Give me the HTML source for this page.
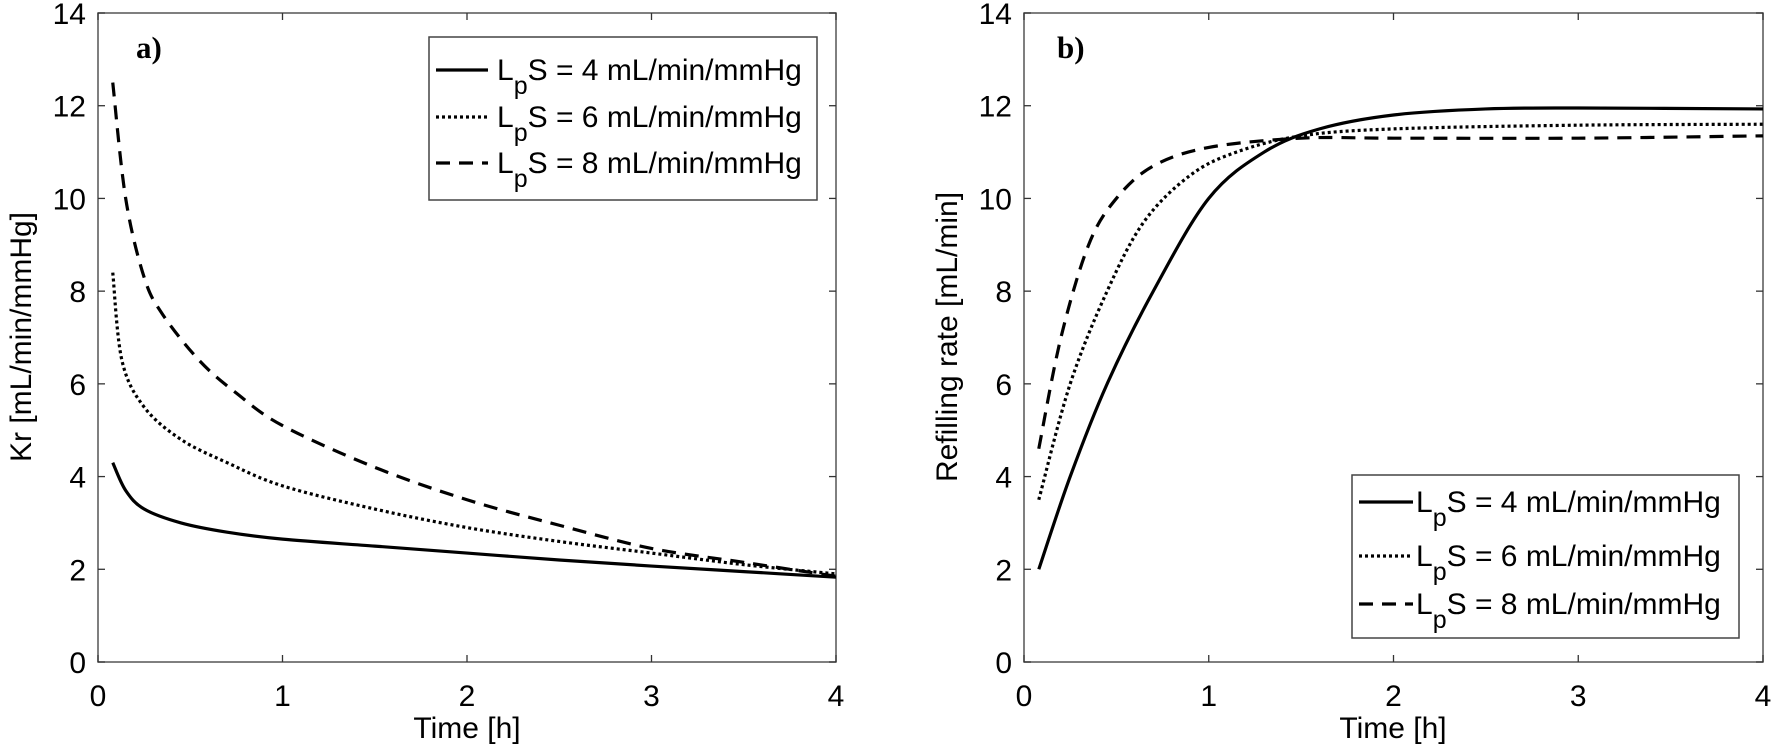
<!DOCTYPE html>
<html><head><meta charset="utf-8"><style>
html,body{margin:0;padding:0;background:#fff;}
svg{display:block;font-family:"Liberation Sans",Arial,sans-serif;}
</style></head><body>
<svg id="s" width="1773" height="753" viewBox="0 0 1773 753" xmlns="http://www.w3.org/2000/svg">
<rect width="1773" height="753" fill="#fff"/>
<g id="g"></g>
<text x="467" y="738" font-size="30" text-anchor="middle">Time [h]</text>
<text x="1393" y="738" font-size="30" text-anchor="middle">Time [h]</text>
<text transform="translate(31,337) rotate(-90)" font-size="30" text-anchor="middle">Kr [mL/min/mmHg]</text>
<text transform="translate(957,337) rotate(-90)" font-size="30" text-anchor="middle">Refilling rate [mL/min]</text>
<text x="136" y="58" font-size="31" font-weight="bold" font-family="Liberation Serif,serif">a)</text>
<text x="1057" y="58" font-size="31" font-weight="bold" font-family="Liberation Serif,serif">b)</text>
</svg>
<script>
var NS="http://www.w3.org/2000/svg",g=document.getElementById('g');
function el(t,a,txt){var e=document.createElementNS(NS,t);for(var k in a)e.setAttribute(k,a[k]);if(txt!=null)e.textContent=txt;g.appendChild(e);return e;}
var Y0=662,YT=13,ppu=(Y0-YT)/14;
function panel(x0,x1,ylabx){
  var pw=(x1-x0)/4;
  el('rect',{x:x0,y:YT,width:x1-x0,height:Y0-YT,fill:'none',stroke:'#555','stroke-width':1.5});
  for(var i=0;i<=4;i++){var x=x0+i*pw;
    el('line',{x1:x,y1:Y0,x2:x,y2:Y0-7,stroke:'#333','stroke-width':1.3});
    el('line',{x1:x,y1:YT,x2:x,y2:YT+7,stroke:'#333','stroke-width':1.3});
    el('text',{x:x,y:706,'font-size':30,'text-anchor':'middle'},i);}
  for(var v=0;v<=14;v+=2){var y=Y0-v*ppu;
    el('line',{x1:x0,y1:y,x2:x0+7,y2:y,stroke:'#333','stroke-width':1.3});
    el('line',{x1:x1,y1:y,x2:x1-7,y2:y,stroke:'#333','stroke-width':1.3});
    el('text',{x:ylabx,y:y+11,'font-size':30,'text-anchor':'end'},v);}
  return function(pts,dash){
    var P=pts.map(function(p){return [x0+p[0]*pw,Y0-p[1]*ppu];});
    var d='M'+P[0][0]+','+P[0][1];
    for(var i=0;i<P.length-1;i++){
      var p0=P[Math.max(0,i-1)],p1=P[i],p2=P[i+1],p3=P[Math.min(P.length-1,i+2)];
      var c1=[p1[0]+(p2[0]-p0[0])/6,p1[1]+(p2[1]-p0[1])/6],c2=[p2[0]-(p3[0]-p1[0])/6,p2[1]-(p3[1]-p1[1])/6];
      d+='C'+c1+' '+c2+' '+p2;}
    var a={d:d,fill:'none',stroke:'#000','stroke-width':3.2};
    if(dash)a['stroke-dasharray']=dash;
    el('path',a);};
}
var A=panel(98,836,86);
A([[0.08,4.3],[0.15,3.7],[0.25,3.3],[0.45,3.0],[0.7,2.8],[1,2.65],[1.5,2.5],[2,2.35],[2.5,2.2],[3,2.07],[3.5,1.95],[4,1.83]]);
A([[0.08,8.4],[0.13,6.5],[0.25,5.5],[0.45,4.8],[0.7,4.3],[1,3.8],[1.5,3.3],[2,2.9],[2.5,2.6],[3,2.35],[3.5,2.1],[4,1.9]],'3,3');
A([[0.08,12.5],[0.15,10],[0.25,8.3],[0.35,7.5],[0.55,6.5],[0.75,5.8],[1,5.1],[1.5,4.2],[2,3.5],[2.5,2.95],[3,2.45],[3.5,2.15],[4,1.85]],'14,9');
var B=panel(1024,1763,1012);
B([[0.08,2],[0.25,4],[0.45,6],[0.7,8],[1,10],[1.3,11],[1.6,11.5],[2,11.8],[2.5,11.93],[3,11.95],[4,11.93]]);
B([[0.08,3.5],[0.25,6],[0.45,8],[0.65,9.5],[0.9,10.5],[1.15,11],[1.5,11.35],[2,11.5],[3,11.58],[4,11.6]],'3,3');
B([[0.08,4.6],[0.2,7],[0.35,9],[0.5,10],[0.7,10.7],[1,11.1],[1.5,11.3],[2,11.3],[3,11.3],[4,11.35]],'14,9');
function legend(bx,by,bw,bh,lx1,lx2,tx,ys){
  el('rect',{x:bx,y:by,width:bw,height:bh,fill:'#fff',stroke:'#444','stroke-width':1.5});
  var dashes=[null,'3,3','14,9'],vals=[4,6,8];
  for(var i=0;i<3;i++){var y=ys[i];
    var a={x1:lx1,y1:y,x2:lx2,y2:y,stroke:'#000','stroke-width':3.2};if(dashes[i])a['stroke-dasharray']=dashes[i];el('line',a);
    var t=el('text',{x:tx,y:y+10,'font-size':30});
    var s1=document.createElementNS(NS,'tspan');s1.textContent='L';t.appendChild(s1);
    var s2=document.createElementNS(NS,'tspan');s2.setAttribute('dy','14');s2.setAttribute('font-size','25');s2.textContent='p';t.appendChild(s2);
    var s3=document.createElementNS(NS,'tspan');s3.setAttribute('dy','-14');s3.textContent='S = '+vals[i]+' mL/min/mmHg';t.appendChild(s3);}
}
legend(429,37,388,163,436,488,497,[70,117,163]);
legend(1352,475,387,163,1359,1413,1416,[502,556,604]);
</script>
</body></html>
